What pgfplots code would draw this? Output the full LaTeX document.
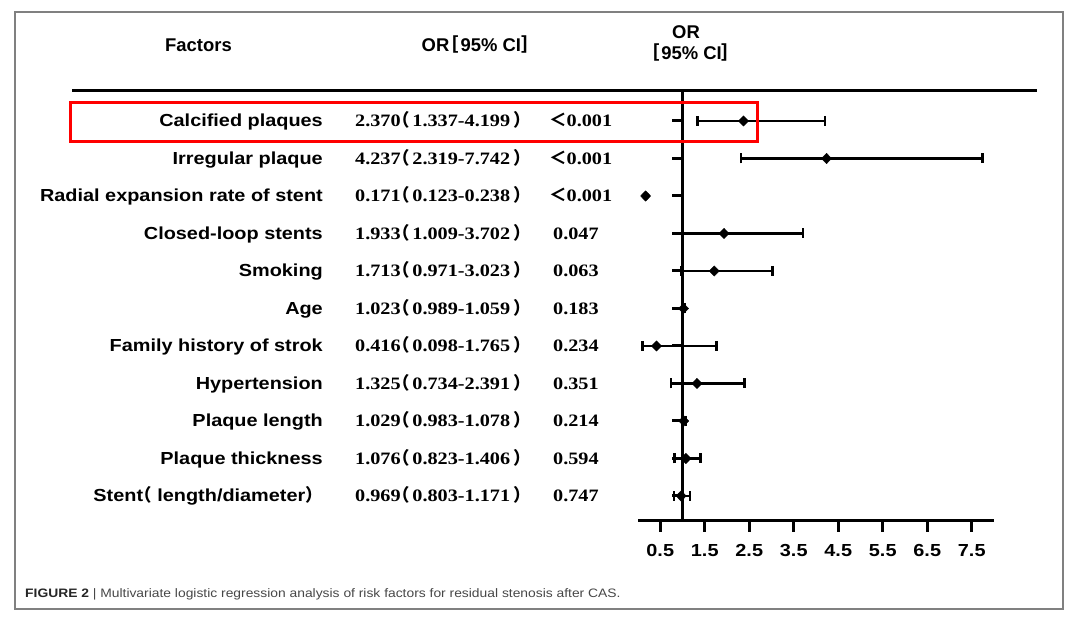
\documentclass[border=0pt]{standalone}
\usepackage{fontspec}
\setmainfont{Liberation Sans}
\newfontfamily\bodysans{Liberation Sans}[FakeStretch=1.14]
\newfontfamily\bodyserif{Liberation Serif}[FakeStretch=1.16]
\newfontfamily\capfont{Liberation Sans}[FakeStretch=1.13]
\newfontfamily\cjk{Noto Sans CJK SC}
\newfontfamily\cjkh{Noto Sans CJK SC}[RawFeature=+halt]
\usepackage{pgfplots}
\usepackage{pgfplotstable}
\pgfplotsset{compat=1.18}

\pgfplotstableread{
row or lo hi
11 2.370 1.337 4.199
10 4.237 2.319 7.742
8 1.933 1.009 3.702
7 1.713 0.971 3.023
6 1.023 0.989 1.059
5 0.416 0.098 1.765
4 1.325 0.734 2.391
3 1.029 0.983 1.078
2 1.076 0.823 1.406
1 0.969 0.803 1.171
}\ortable
% Radial expansion rate of stent: CI 0.123-0.238 hidden under its marker
\pgfplotstableread{
row or lo hi
9 0.171 0.123 0.238
}\radtable

\newcommand\ci[3]{{\bodyserif\bfseries #1\kern1bp{\cjkh（}\kern2bp#2-#3\kern3bp{\cjkh）}}}
\newcommand\lt{{\cjk ＜}}

\begin{document}
\begin{tikzpicture}[x=1bp,y=1bp]
\path (0,0) rectangle (1080,630);
\draw[color=black!50, line width=2bp] (15,618) rectangle (1063,21);
% header
\node[font=\bfseries\fontsize{18.5}{20}\selectfont, anchor=base] at (198.5,578.4) {Factors};
\node[font=\bfseries\fontsize{18.5}{20}\selectfont, anchor=base] at (476,578.4) {OR{\cjkh［}\kern2bp 95\% CI{\cjkh］}};
\node[font=\bfseries\fontsize{18.5}{20}\selectfont, anchor=base] at (686,591.4) {OR};
\node[font=\bfseries\fontsize{18.5}{20}\selectfont, anchor=base] at (691,570.4) {{\cjkh［}\kern1bp 95\% CI{\cjkh］}};
\draw[line width=3.2bp] (72,539.5) -- (1037,539.5);
% factor labels
\foreach \n [count=\i from 0] in {{Calcified plaques},{Irregular plaque},{Radial expansion rate of stent},{Closed-loop stents},{Smoking},{Age},{Family history of strok},{Hypertension},{Plaque length},{Plaque thickness},{Stent{\cjkh（} length/diameter{\cjk ）}}}
  \node[anchor=base east, font=\bodysans\bfseries\fontsize{17.5}{20}\selectfont, inner sep=0pt] at (323,{503-37.5*\i}) {\n};
% OR and CI
\foreach \a/\b/\c [count=\i from 0] in {2.370/1.337/4.199,4.237/2.319/7.742,0.171/0.123/0.238,1.933/1.009/3.702,1.713/0.971/3.023,1.023/0.989/1.059,0.416/0.098/1.765,1.325/0.734/2.391,1.029/0.983/1.078,1.076/0.823/1.406,0.969/0.803/1.171}
  \node[anchor=base west, font=\fontsize{17.5}{20}\selectfont, inner sep=0pt] at (355,{503-37.5*\i}) {\ci{\a}{\b}{\c}};
% p values
\foreach \p [count=\i from 0] in {{\lt 0.001},{\lt 0.001},{\lt 0.001}}
  \node[anchor=base west, font=\bodyserif\bfseries\fontsize{17.5}{20}\selectfont, inner sep=0pt] at (549,{503-37.5*\i}) {\p};
\foreach \p [count=\i from 3] in {0.047,0.063,0.183,0.234,0.351,0.214,0.594,0.747}
  \node[anchor=base west, font=\bodyserif\bfseries\fontsize{17.5}{20}\selectfont, inner sep=0pt] at (553,{503-37.5*\i}) {\p};
\begin{axis}[at={(638bp,109bp)}, anchor=south west,
  width=356bp, height=431bp, scale only axis,
  xmin=0, xmax=8, ymin=0.333, ymax=11.827,
  axis x line=bottom, axis y line=none,
  x axis line style={line width=3bp, -},
  tick align=outside, major tick length=11bp,
  xtick={0.5,1.5,2.5,3.5,4.5,5.5,6.5,7.5},
  xticklabels={0.5,1.5,2.5,3.5,4.5,5.5,6.5,7.5},
  xtick style={line width=3bp, black},
  ytick=\empty,
  xticklabel style={font=\bodysans\bfseries\fontsize{17.5}{20}\selectfont, yshift=-9bp},
  clip=false]
\addplot[line width=3bp, black] coordinates {(1,0.333) (1,11.827)};
\addplot[only marks, mark=-, mark size=5.5bp, mark options={xshift=-5.5bp, line width=3bp, black}] table[x expr=1, y=row] {\ortable};
\addplot[only marks, mark=-, mark size=5.5bp, mark options={xshift=-5.5bp, line width=3bp, black}] table[x expr=1, y=row] {\radtable};
\addplot[only marks, mark=diamond*, mark size=5.2bp, mark options={xscale=1.3, black, fill=black},
  error bars/.cd, x dir=both, x explicit, error mark=|,
  error bar style={line width=2.3bp, black},
  error mark options={line width=2.3bp, mark size=5bp, black}]
  table[x=or, y=row, x error plus expr=\thisrow{hi}-\thisrow{or}, x error minus expr=\thisrow{or}-\thisrow{lo}] {\ortable};
\addplot[only marks, mark=diamond*, mark size=5.2bp, mark options={xscale=1.3, black, fill=black}]
  table[x=or, y=row] {\radtable};
\end{axis}
% highlight box
\draw[color=red, line width=3bp] (70.5,527.5) rectangle (757,488.5);
\node[anchor=base west, font=\capfont\fontsize{12.3}{14}\selectfont, text=black!72, inner sep=0pt] at (25,32) {\textcolor{black!85}{\textbf{FIGURE 2}} | Multivariate logistic regression analysis of risk factors for residual stenosis after CAS.};
\end{tikzpicture}
\end{document}
